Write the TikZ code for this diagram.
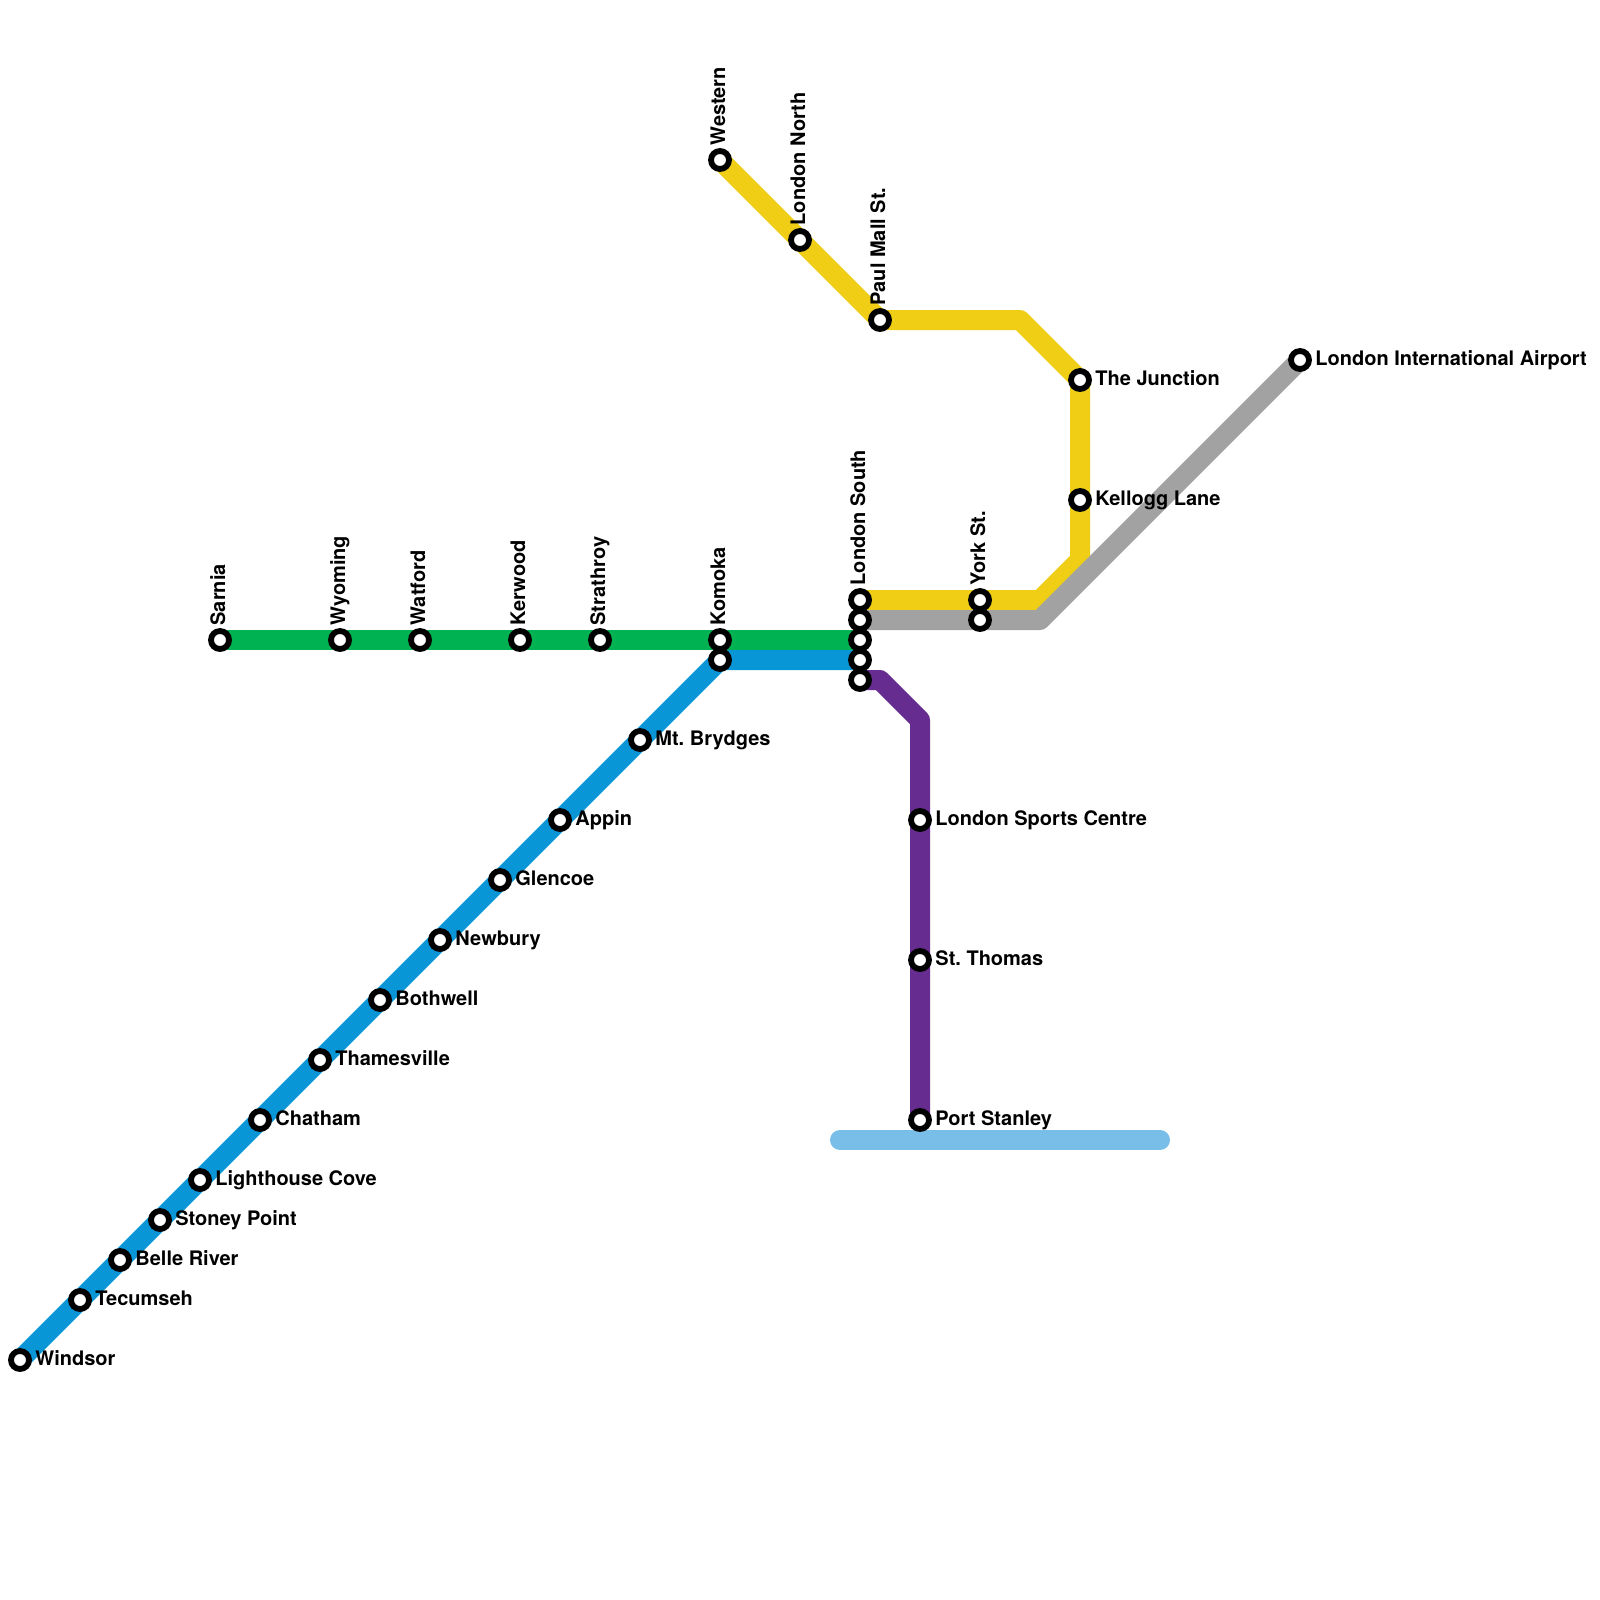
\documentclass[tikz,border=0pt]{standalone}
\usepackage{fontspec}
\setmainfont{TeX Gyre Heros}
\frenchspacing
\definecolor{cgreen}{HTML}{00B251}
\definecolor{cblue}{HTML}{0896D7}
\definecolor{cyellow}{HTML}{F0CE15}
\definecolor{cgray}{HTML}{A2A2A2}
\definecolor{cpurple}{HTML}{662C90}
\definecolor{criver}{HTML}{79BDE9}
\tikzset{
  metro/.style={line width=10pt,line join=round},
  water/.style={line width=10pt,line cap=round,color=criver},
  stn/.style={circle,draw=black,fill=white,line width=2.9pt,minimum size=9pt,inner sep=0pt,outer sep=0pt},
  lblr/.style={anchor=base west,inner sep=0pt,font=\fontsize{10}{12}\selectfont\bfseries,xshift=7.5pt,yshift=-2.5pt},
  lblu/.style={anchor=base west,inner sep=0pt,font=\fontsize{10}{12}\selectfont\bfseries,rotate=90,xshift=7.1pt,yshift=-2.5pt},
}
\begin{document}
\begin{tikzpicture}[x=0.5pt,y=-0.5pt]
\useasboundingbox (0,0) rectangle (1600,1600);
% stations positions
\foreach \n/\x/\y in {Windsor/20/1360,Tecumseh/80/1300,BelleRiver/120/1260,StoneyPoint/160/1220,LighthouseCove/200/1180,Chatham/260/1120,Thamesville/320/1060,Bothwell/380/1000,Newbury/440/940,Glencoe/500/880,Appin/560/820,MtBrydges/640/740,KomokaB/720/660,LondonB/860/660,
Sarnia/220/640,Wyoming/340/640,Watford/420/640,Kerwood/520/640,Strathroy/600/640,Komoka/720/640,LondonG/860/640,
Western/720/160,LondonNorth/800/240,PaulMall/880/320,YA/1020/320,Junction/1080/380,Kellogg/1080/500,YB/1080/560,YC/1040/600,York/980/600,LondonSouth/860/600,
LondonA/860/620,YorkA/980/620,GC/1040/620,Airport/1300/360,
LondonP/860/680,PA/880/680,PB/920/720,Sports/920/820,StThomas/920/960,PortStanley/920/1120,
RA/840/1140,RB/1160/1140}
  {\coordinate (\n) at (\x,\y);}
% water
\draw[water] (RA) -- (RB);
% lines
\draw[metro,cgreen] (Sarnia) -- (Wyoming) -- (Watford) -- (Kerwood) -- (Strathroy) -- (Komoka) -- (LondonG);
\draw[metro,cblue] (Windsor) -- (Tecumseh) -- (BelleRiver) -- (StoneyPoint) -- (LighthouseCove) -- (Chatham) -- (Thamesville) -- (Bothwell) -- (Newbury) -- (Glencoe) -- (Appin) -- (MtBrydges) -- (KomokaB) -- (LondonB);
\draw[metro,cpurple] (LondonP) -- (PA) -- (PB) -- (Sports) -- (StThomas) -- (PortStanley);
\draw[metro,cyellow] (Western) -- (LondonNorth) -- (PaulMall) -- (YA) -- (Junction) -- (Kellogg) -- (YB) -- (YC) -- (York) -- (LondonSouth);
\draw[metro,cgray] (LondonA) -- (YorkA) -- (GC) -- (Airport);
% station markers
\foreach \n in {Windsor,Tecumseh,BelleRiver,StoneyPoint,LighthouseCove,Chatham,Thamesville,Bothwell,Newbury,Glencoe,Appin,MtBrydges,KomokaB,LondonB,Sarnia,Wyoming,Watford,Kerwood,Strathroy,Komoka,LondonG,Western,LondonNorth,PaulMall,Junction,Kellogg,York,LondonSouth,LondonA,YorkA,Airport,LondonP,Sports,StThomas,PortStanley}
  {\node[stn] (s\n) at (\n) {};}
% labels
\node[lblr] (tWindsor) at (Windsor) {Windsor};
\node[lblr] (tTecumseh) at (Tecumseh) {Tecumseh};
\node[lblr] (tBelle) at (BelleRiver) {Belle River};
\node[lblr] (tStoney) at (StoneyPoint) {Stoney Point};
\node[lblr] (tLight) at (LighthouseCove) {Lighthouse Cove};
\node[lblr] (tChatham) at (Chatham) {Chatham};
\node[lblr] (tThames) at (Thamesville) {Thamesville};
\node[lblr] (tBoth) at (Bothwell) {Bothwell};
\node[lblr] (tNew) at (Newbury) {Newbury};
\node[lblr] (tGlen) at (Glencoe) {Glencoe};
\node[lblr] (tAppin) at (Appin) {Appin};
\node[lblr] (tMt) at (MtBrydges) {Mt. Brydges};
\node[lblr] (tJunc) at (Junction) {The Junction};
\node[lblr] (tKell) at (Kellogg) {Kellogg Lane};
\node[lblr] (tAir) at (Airport) {London International Airport};
\node[lblr] (tSports) at (Sports) {London Sports Centre};
\node[lblr] (tThomas) at (StThomas) {St. Thomas};
\node[lblr] (tPort) at (PortStanley) {Port Stanley};
\node[lblu] (tSarnia) at (Sarnia) {Sarnia};
\node[lblu] (tWyo) at (Wyoming) {Wyoming};
\node[lblu] (tWat) at (Watford) {Watford};
\node[lblu] (tKer) at (Kerwood) {Kerwood};
\node[lblu] (tStr) at (Strathroy) {Strathroy};
\node[lblu] (tKom) at (Komoka) {Komoka};
\node[lblu] (tLS) at (LondonSouth) {London South};
\node[lblu] (tYork) at (York) {York St.};
\node[lblu] (tWest) at (Western) {Western};
\node[lblu] (tLN) at (LondonNorth) {London North};
\node[lblu] (tPM) at (PaulMall) {Paul Mall St.};
\end{tikzpicture}
\end{document}
